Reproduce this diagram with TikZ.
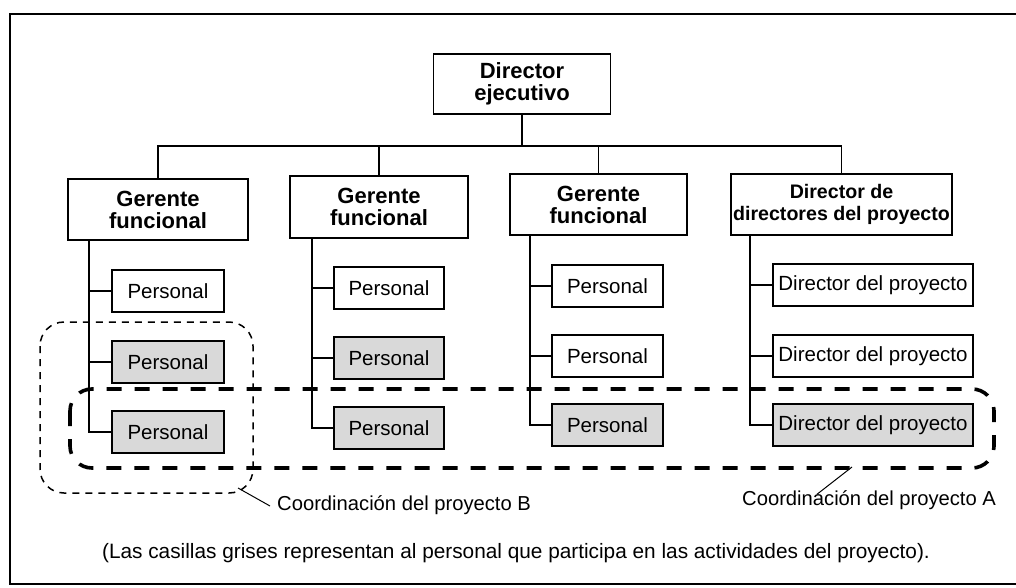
\documentclass[tikz,border=0pt]{standalone}
\usepackage{fontspec}
\setmainfont{Liberation Sans}
\begin{document}
\begin{tikzpicture}[x=1pt,y=-1pt,
  boss/.style={draw,line width=1.6pt,fill=white,align=center,font=\fontsize{22}{22}\selectfont\bfseries,inner sep=0pt},
  staff/.style={draw,line width=1.4pt,fill=white,minimum height=42pt,inner sep=0pt,font=\fontsize{20.5}{21}\selectfont},
  grey/.style={staff,fill=black!15,line width=1.8pt},
  link/.style={line width=1.5pt},
  coordB/.style={dash pattern=on 7pt off 6pt,line width=1.5pt,rounded corners=24pt},
  coordA/.style={dash pattern=on 15pt off 13pt,line width=3.6pt,rounded corners=22pt},
  lbl/.style={font=\fontsize{20.2}{21}\selectfont,inner sep=0pt},
  note/.style={font=\fontsize{20.8}{21}\selectfont,inner sep=0pt}]
\useasboundingbox (0,0) rectangle (1016,588);
% frame
\draw[line width=2.6pt] (1016,14) -- (10,14) -- (10,584) -- (1016,584);

% top level
\node[boss,minimum width=177pt,minimum height=60pt] (dir) at (522,84) {Director\\ejecutivo};
\node[boss,minimum width=180pt,minimum height=61pt] (g1) at (158,209.5) {Gerente\\funcional};
\node[boss,minimum width=178pt,minimum height=62pt] (g2) at (379,207) {Gerente\\funcional};
\node[boss,minimum width=177pt,minimum height=61pt] (g3) at (598.5,204.5) {Gerente\\funcional};
\node[boss,minimum width=221pt,minimum height=61pt,font=\fontsize{19.6}{22}\selectfont\bfseries] (d4) at (841.5,204.5) {Director de\\directores del proyecto};

\coordinate (bus) at (522,146);
\draw[link] (dir.south) -- (bus);
\draw[link] (g1.north) |- (bus) -| (d4.north);
\draw[link] (g2.north) -- (g2.north |- bus);
\draw[link] (g3.north) -- (g3.north |- bus);

% column 1
\node[staff,minimum width=112pt] (p11) at (168,291) {Personal};
\node[grey,minimum width=112pt] (p12) at (168,362) {Personal};
\node[grey,minimum width=112pt] (p13) at (168,432) {Personal};
% column 2
\node[staff,minimum width=110pt] (p21) at (389,288) {Personal};
\node[grey,minimum width=110pt] (p22) at (389,358) {Personal};
\node[grey,minimum width=110pt] (p23) at (389,428) {Personal};
% column 3
\node[staff,minimum width=111pt] (p31) at (607.5,286) {Personal};
\node[staff,minimum width=111pt] (p32) at (607.5,356) {Personal};
\node[grey,minimum width=111pt] (p33) at (607.5,425) {Personal};
% column 4
\node[staff,minimum width=200pt] (p41) at (873,285) {Director del proyecto};
\node[staff,minimum width=200pt] (p42) at (873,356) {Director del proyecto};
\node[grey,minimum width=200pt] (p43) at (873,425) {Director del proyecto};

% stems
\coordinate (s1) at ([xshift=22pt]g1.south west);
\coordinate (s2) at ([xshift=23pt]g2.south west);
\coordinate (s3) at ([xshift=21pt]g3.south west);
\coordinate (s4) at ([xshift=20pt]d4.south west);
\draw[link] (s1) |- (p13.west);
\draw[link] (s1 |- p11.west) -- (p11.west);
\draw[link] (s1 |- p12.west) -- (p12.west);
\draw[link] (s2) |- (p23.west);
\draw[link] (s2 |- p21.west) -- (p21.west);
\draw[link] (s2 |- p22.west) -- (p22.west);
\draw[link] (s3) |- (p33.west);
\draw[link] (s3 |- p31.west) -- (p31.west);
\draw[link] (s3 |- p32.west) -- (p32.west);
\draw[link] (s4) |- (p43.west);
\draw[link] (s4 |- p41.west) -- (p41.west);
\draw[link] (s4 |- p42.west) -- (p42.west);

% coordination regions
\draw[coordB] (40,322) rectangle (253,493);
\draw[coordA] (70,389) rectangle (994,468);

% labels
\node[lbl,anchor=west] (labB) at (277,505) {Coordinación del proyecto B};
\node[lbl,anchor=west] (labA) at (742,500) {Coordinación del proyecto A};
\coordinate (ptB) at (238,488);
\coordinate (ptA) at (852,467);
\draw[line width=1pt] (ptB) -- ([xshift=-7pt,yshift=-1pt]labB.west);
\draw[line width=1pt] (ptA) -- ([xshift=75pt,yshift=-4pt]labA.north west);

\node[note] (nota) at (516,553) {(Las casillas grises representan al personal que participa en las actividades del proyecto).};
\end{tikzpicture}
\end{document}
